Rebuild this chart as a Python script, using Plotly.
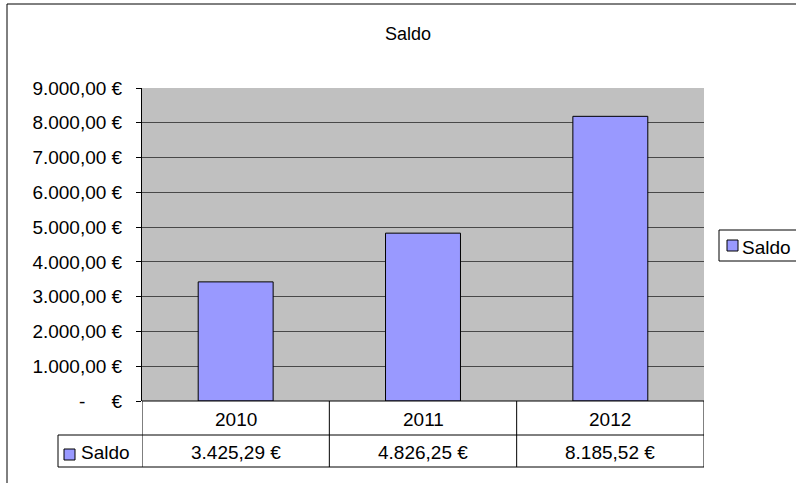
import plotly.graph_objects as go

years = ["2010", "2011", "2012"]
saldo = [3425.29, 4826.25, 8185.52]
saldo_labels = ["3.425,29 €", "4.826,25 €", "8.185,52 €"]
tick_vals = [0, 1000, 2000, 3000, 4000, 5000, 6000, 7000, 8000, 9000]
tick_text = ["-\u00a0\u00a0\u00a0\u00a0\u00a0€", "1.000,00 €", "2.000,00 €", "3.000,00 €",
             "4.000,00 €", "5.000,00 €", "6.000,00 €", "7.000,00 €", "8.000,00 €", "9.000,00 €"]
series_name = "Saldo"

W, H = 796, 483
FONT = "Liberation Sans, Arial, sans-serif"
BAR = "#9999FF"
FS = 19


def px(x):
    return x / W


def py(y):
    return 1 - y / H


fig = go.Figure()
fig.add_trace(go.Bar(
    x=list(range(len(years))), y=saldo, name=series_name,
    marker=dict(color=BAR, line=dict(color="#000000", width=1)),
))

x0, x1 = 142, 704
ytop, ybot = 88, 401
row1, row2 = 435, 467
line_c = "#000000"


def pline(xa, xb, ya, yb):
    return dict(type="line", xref="paper", yref="paper", x0=px(xa), x1=px(xb),
                y0=py(ya), y1=py(yb), line=dict(color=line_c, width=1))


shapes = [
    # outer chart frame
    dict(type="rect", xref="paper", yref="paper", x0=px(7), x1=px(815), y0=py(4), y1=py(500),
         line=dict(color="#000000", width=1)),
    pline(58, x1, row1, row1),
    pline(58, x1, row2, row2),
    pline(x0, x1, ybot, ybot),
    pline(58, 58, row1, row2),
    # key in the data table
    dict(type="rect", xref="paper", yref="paper", x0=px(64), x1=px(75),
         y0=py(449), y1=py(460), fillcolor=BAR, line=dict(color="#000000", width=1)),
    # legend box and key
    dict(type="rect", xref="paper", yref="paper", x0=px(719), x1=px(815),
         y0=py(230), y1=py(261), fillcolor="#FFFFFF", line=dict(color="#000000", width=1)),
    dict(type="rect", xref="paper", yref="paper", x0=px(727), x1=px(738),
         y0=py(240), y1=py(251), fillcolor=BAR, line=dict(color="#000000", width=1)),
]
for xv in [-0.5, 0.5, 1.5, 2.5]:
    shapes.append(dict(type="line", xref="x", yref="paper", x0=xv, x1=xv,
                       y0=py(ybot), y1=py(row2), line=dict(color=line_c, width=1)))

txt = dict(color="#000000", family=FONT, size=FS)
annotations = [
    dict(text=series_name, xref="paper", yref="paper", x=px(79), y=py(452),
         xanchor="left", yanchor="middle", showarrow=False, font=txt),
    dict(text=series_name, xref="paper", yref="paper", x=px(740), y=py(247),
         xanchor="left", yanchor="middle", showarrow=False, font=txt),
]
for i, (yr, lab) in enumerate(zip(years, saldo_labels)):
    annotations.append(dict(text=yr, xref="x", yref="paper", x=i, y=py(419),
                            xanchor="center", yanchor="middle", showarrow=False, font=txt))
    annotations.append(dict(text=lab, xref="x", yref="paper", x=i, y=py(452),
                            xanchor="center", yanchor="middle", showarrow=False, font=txt))

fig.update_layout(
    width=W, height=H,
    margin=dict(l=0, r=0, t=0, b=0, autoexpand=False),
    paper_bgcolor="#FFFFFF",
    plot_bgcolor="#C0C0C0",
    font=dict(family=FONT, size=FS, color="#000000"),
    title=dict(text="Saldo", x=px(408), y=py(34), xanchor="center", yanchor="middle",
               font=dict(size=18, color="#000000", family=FONT)),
    bargap=0.6,
    showlegend=False,
    xaxis=dict(domain=[px(x0), px(x1)], range=[-0.5, 2.5], showticklabels=False,
               showgrid=False, zeroline=False, showline=False, ticks="", automargin=False),
    yaxis=dict(domain=[py(ybot), py(ytop)], range=[0, 9000], tickvals=tick_vals,
               ticktext=tick_text, ticks="outside", ticklen=5, tickcolor="#000000",
               ticklabelstandoff=10, automargin=False,
               showgrid=True, gridcolor="#484848", gridwidth=1, zeroline=False,
               showline=True, linecolor="#000000", linewidth=1,
               tickfont=txt),
    shapes=shapes,
    annotations=annotations,
)

pin = ("document.body.style.margin='0';document.body.style.overflow='hidden';"
       "var gd=document.getElementById('{plot_id}');gd.style.position='fixed';"
       "gd.style.top='0px';gd.style.left='0px';")
fig.write_html("out.html", config={"displayModeBar": False}, post_script=pin)
